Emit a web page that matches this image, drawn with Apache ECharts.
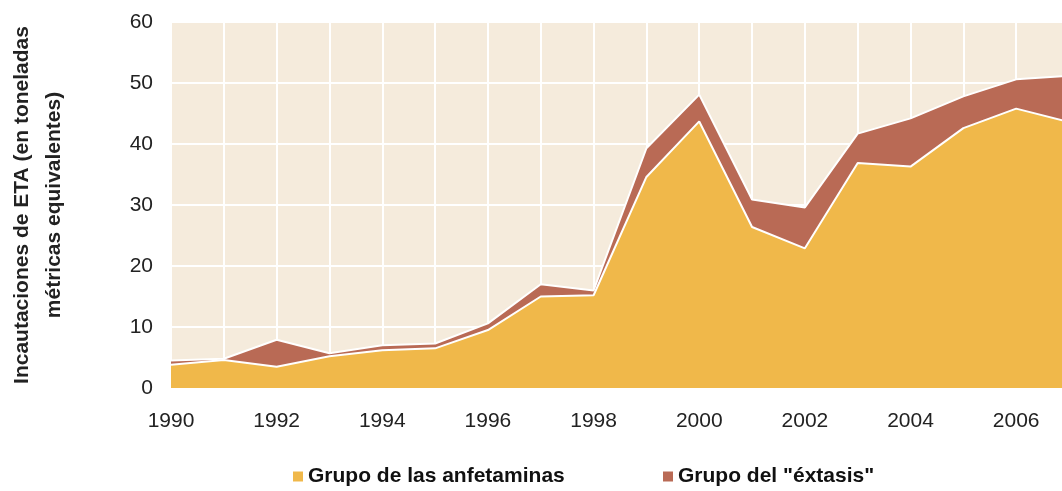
<!DOCTYPE html>
<html>
<head>
<meta charset="utf-8">
<script src="https://cdn.jsdelivr.net/npm/echarts@6/dist/echarts.min.js"></script>
<style>
html, body { margin: 0; padding: 0; background: #fff; }
#chart { width: 1062px; height: 491px; }
</style>
</head>
<body>
<div id="chart"></div>
<script>
// datos (toneladas)
var years = ['1990', '1991', '1992', '1993', '1994', '1995', '1996', '1997', '1998', '1999', '2000', '2001', '2002', '2003', '2004', '2005', '2006', '2007'];
var anfetaminas = [3.8, 4.6, 3.5, 5.2, 6.2, 6.5, 9.5, 15.0, 15.2, 34.6, 43.7, 26.4, 22.9, 36.9, 36.3, 42.6, 45.8, 43.6];
var extasis = [0.7, 0.2, 4.4, 0.5, 0.8, 0.8, 1.1, 2.0, 0.8, 4.7, 4.4, 4.5, 6.7, 4.8, 7.9, 5.2, 4.8, 7.6];
var names = ['Grupo de las anfetaminas', 'Grupo del "éxtasis"'];

var myChart = echarts.init(document.getElementById('chart'));

var legendText = { fontSize: 21, fontWeight: 'bold', color: '#111' };

var option = {
	animation: false,
	textStyle: { fontFamily: 'Liberation Sans, Arial, sans-serif' },
	grid: {
		left: 171, top: 22, width: 898, height: 366,
		outerBoundsMode: 'none', containLabel: false,
		show: true, backgroundColor: '#f5ebdc', borderWidth: 0
	},
	legend: [
		{ left: 288, top: 461, itemWidth: 10, itemHeight: 10, icon: 'rect', textStyle: legendText, data: [names[0]] },
		{ left: 658, top: 461, itemWidth: 10, itemHeight: 10, icon: 'rect', textStyle: legendText, data: [names[1]] }
	],
	xAxis: {
		type: 'category', boundaryGap: false, data: years,
		axisLine: { show: false }, axisTick: { show: false },
		splitLine: { show: true, interval: 0, lineStyle: { color: '#fff', width: 2 } },
		axisLabel: {
			interval: 0, margin: 23, fontSize: 21, color: '#222',
			formatter: function(v) { return (Number(v) % 2 == 0) ? v : ''; }
		}
	},
	yAxis: {
		type: 'value', min: 0, max: 60, interval: 10,
		name: 'Incautaciones de ETA (en toneladas\nmétricas equivalentes)',
		nameLocation: 'middle', nameGap: 101, nameRotate: 90,
		nameTextStyle: { fontSize: 21, fontWeight: 'bold', color: '#222', lineHeight: 32 },
		axisLine: { show: false }, axisTick: { show: false },
		splitLine: { show: true, lineStyle: { color: '#fff', width: 2 } },
		axisLabel: { margin: 18, fontSize: 21, color: '#222' }
	},
	series: [
		{
			name: names[0], type: 'line', stack: 'eta', z: 3,
			symbol: 'none',
			itemStyle: { color: '#f0b84a' },
			lineStyle: { color: '#fff', width: 2 },
			areaStyle: { color: '#f0b84a', opacity: 1 },
			data: anfetaminas
		},
		{
			name: names[1], type: 'line', stack: 'eta', z: 2,
			symbol: 'none',
			itemStyle: { color: '#b96a55' },
			lineStyle: { color: '#fff', width: 2 },
			areaStyle: { color: '#b96a55', opacity: 1 },
			data: extasis
		}
	]
};
myChart.setOption(option);
</script>
</body>
</html>
